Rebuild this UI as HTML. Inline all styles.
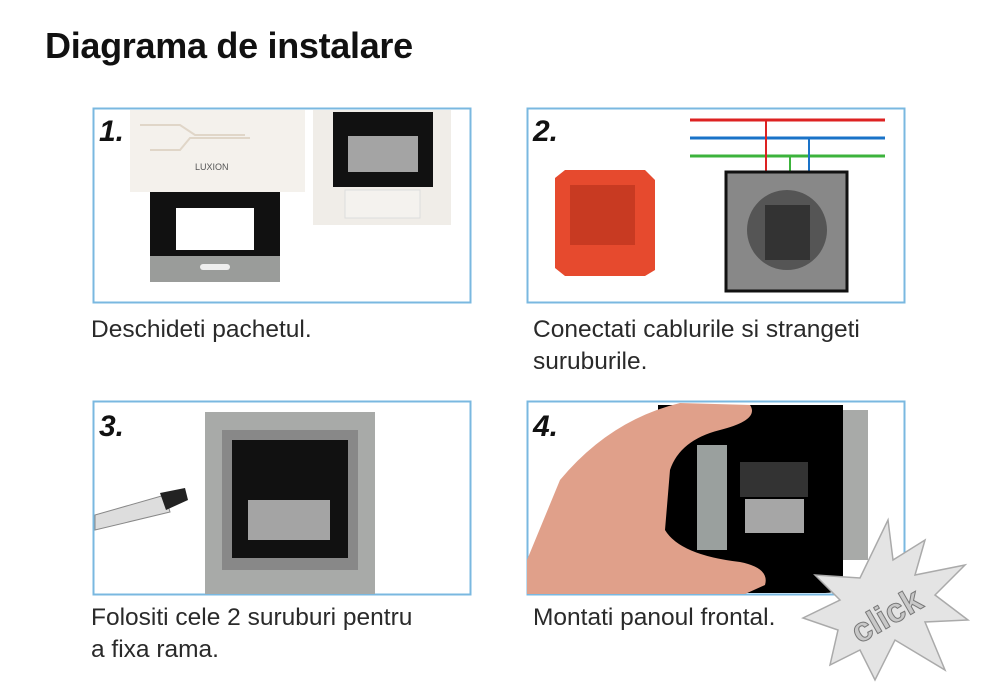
<!DOCTYPE html>
<html><head><meta charset="utf-8"><style>
body{margin:0;width:1000px;height:698px;background:#fff;overflow:hidden;position:relative;font-family:"Liberation Sans",sans-serif}
.t{position:absolute;left:45px;top:25px;font-size:36px;font-weight:bold;color:#111;letter-spacing:-0.3px}
.cap{position:absolute;font-size:24.5px;color:#2a2a2a;line-height:32px}
svg{position:absolute;left:0;top:0}
.n{font-family:"Liberation Sans",sans-serif;font-weight:bold;font-style:italic;font-size:30px;fill:#111}
</style></head><body>
<div class="t">Diagrama de instalare</div>
<svg width="1000" height="698">
<!-- panel 1 -->
<rect x="93.5" y="108.5" width="377" height="194" fill="#fff" stroke="#7ab8e0" stroke-width="2"/>
<rect x="130" y="110" width="175" height="82" fill="#f4f1ec"/>
<path d="M140 125 h40 l15 10 h50 M150 150 h30 l10 -12 h60" stroke="#e0d6c8" fill="none" stroke-width="2"/>
<text x="195" y="170" font-size="9" fill="#555">LUXION</text>
<rect x="150" y="192" width="130" height="68" fill="#111"/>
<rect x="176" y="208" width="78" height="42" fill="#fff"/>
<rect x="150" y="256" width="130" height="26" fill="#9a9c9a"/>
<rect x="200" y="264" width="30" height="6" rx="3" fill="#eee"/>
<rect x="313" y="110" width="138" height="115" fill="#f0ede8"/>
<rect x="333" y="112" width="100" height="75" fill="#111"/>
<rect x="348" y="136" width="70" height="36" fill="#a4a4a4"/>
<rect x="345" y="190" width="75" height="28" fill="#f4f2ee" stroke="#ddd"/>
<text x="99" y="141" class="n">1.</text>
<!-- panel 2 -->
<rect x="527.5" y="108.5" width="377" height="194" fill="#fff" stroke="#7ab8e0" stroke-width="2"/>
<path d="M565 170 h80 l10 10 v90 l-10 6 h-80 l-10 -8 v-90z" fill="#e64a2e"/>
<rect x="570" y="185" width="65" height="60" fill="#c83a22"/>
<line x1="690" y1="120" x2="885" y2="120" stroke="#d22" stroke-width="3"/>
<line x1="690" y1="138" x2="885" y2="138" stroke="#1a73c8" stroke-width="3"/>
<line x1="690" y1="156" x2="885" y2="156" stroke="#3cb33c" stroke-width="3"/>
<line x1="766" y1="120" x2="766" y2="205" stroke="#d22" stroke-width="2"/>
<line x1="809" y1="138" x2="809" y2="205" stroke="#1a73c8" stroke-width="2"/>
<line x1="790" y1="156" x2="790" y2="205" stroke="#3cb33c" stroke-width="2"/>
<rect x="726" y="172" width="121" height="119" fill="#888" stroke="#111" stroke-width="3"/>
<circle cx="787" cy="230" r="40" fill="#555"/>
<rect x="765" y="205" width="45" height="55" fill="#333"/>
<text x="533" y="141" class="n">2.</text>
<!-- panel 3 -->
<rect x="93.5" y="401.5" width="377" height="193" fill="#fff" stroke="#7ab8e0" stroke-width="2"/>
<rect x="205" y="412" width="170" height="182" fill="#a8aaa8"/>
<rect x="222" y="430" width="136" height="140" fill="#888"/>
<rect x="232" y="440" width="116" height="118" fill="#111"/>
<rect x="248" y="500" width="82" height="40" fill="#a4a4a4"/>
<path d="M95 515 L165 495 L170 512 L95 530z" fill="#ddd" stroke="#888"/>
<path d="M160 493 L185 488 L188 500 L166 510z" fill="#222"/>
<text x="99" y="436" class="n">3.</text>
<!-- panel 4 -->
<rect x="527.5" y="401.5" width="377" height="193" fill="#fff" stroke="#7ab8e0" stroke-width="2"/>
<rect x="843" y="410" width="25" height="150" fill="#a8aaa8"/>
<path d="M658 405 h185 v170 q0 18 -18 18 h-153 q-14 0 -14 -14z" fill="#000"/>
<rect x="697" y="445" width="30" height="105" fill="#9aa09e"/>
<rect x="740" y="462" width="68" height="35" fill="#333"/>
<rect x="745" y="499" width="59" height="34" fill="#a6a6a6"/>
<path d="M527 560 L560 480 Q610 420 680 403 L750 405 Q760 420 720 430 Q680 440 670 470 L665 530 Q680 555 740 562 Q770 568 765 585 L745 594 L527 594z" fill="#e0a08a"/>
<text x="533" y="436" class="n">4.</text>
<!-- click burst -->
<path d="M888 520 L893 560 L925 540 L915 575 L965 565 L935 595 L968 620 L925 622 L945 670 L895 640 L875 680 L860 650 L830 665 L838 630 L803 618 L840 600 L815 575 L860 578z" fill="#e4e4e4" stroke="#aaa" stroke-width="1.5"/>
<text x="840" y="628" font-size="34" font-weight="bold" fill="#c8c8c8" stroke="#777" stroke-width="1" transform="rotate(-30 880 600)">click</text>
</svg>
<div class="cap" style="left:91px;top:314px">Deschideti pachetul.</div>
<div class="cap" style="left:533px;top:314px">Conectati cablurile si strangeti<br>suruburile.</div>
<div class="cap" style="left:91px;top:602px">Folositi cele 2 suruburi pentru<br>a fixa rama.</div>
<div class="cap" style="left:533px;top:602px">Montati panoul frontal.</div>
</body></html>
